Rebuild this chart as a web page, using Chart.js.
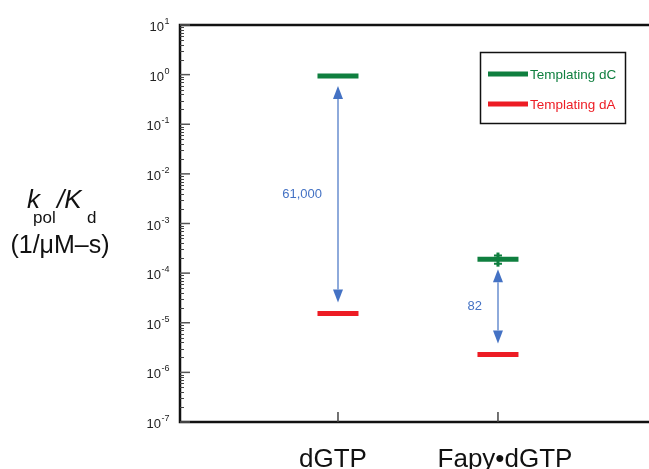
<!DOCTYPE html>
<html>
<head>
    <title>kpol/Kd dGTP vs Fapy-dGTP</title>
    <script src="https://cdn.jsdelivr.net/npm/chart.js"></script>
    <style>
        body { margin: 0; background: #fff; }
        #wrap { position: relative; width: 649px; height: 469px; }
    </style>
</head>
<body>
    <div id="wrap"><canvas id="kChart"></canvas></div>
    <script>
        // data
        const categories = ['dGTP', 'Fapy\u2022dGTP'];
        const templatingDC = [0.94, 1.9e-4];
        const templatingDA = [1.54e-5, 2.3e-6];
        const dcErrLow = [null, 1.35e-4];
        const dcErrHigh = [null, 2.6e-4];
        const foldLabels = ['61,000', '82'];
        const yTickExps = [1, 0, -1, -2, -3, -4, -5, -6, -7];

        const GREEN = '#0f7f3f';
        const RED = '#ed1c24';
        const BLUE = '#4472c4';
        const FONT = '"Liberation Sans", Arial, sans-serif';

        const decor = {
            id: 'decor',
            afterDatasetsDraw(chart) {
                const c = chart.ctx;
                const xs = chart.scales.x, ys = chart.scales.y;
                const a = chart.chartArea;
                c.save();

                // error bar on the Fapy dC point
                categories.forEach((cat, i) => {
                    if (dcErrLow[i] == null) return;
                    const x = xs.getPixelForValue(i);
                    const yl = ys.getPixelForValue(dcErrLow[i]);
                    const yh = ys.getPixelForValue(dcErrHigh[i]);
                    c.strokeStyle = GREEN;
                    c.lineWidth = 3;
                    c.beginPath(); c.moveTo(x, yh); c.lineTo(x, yl); c.stroke();
                    c.lineWidth = 2;
                    c.beginPath();
                    c.moveTo(x - 4, yh + 3); c.lineTo(x + 4, yh + 3);
                    c.moveTo(x - 4, yl - 3); c.lineTo(x + 4, yl - 3);
                    c.stroke();
                });

                // fold-difference arrows
                categories.forEach((cat, i) => {
                    const x = xs.getPixelForValue(i);
                    const yTop = ys.getPixelForValue(templatingDC[i]) + 10;
                    const yBot = ys.getPixelForValue(templatingDA[i]) - 11;
                    const head = 13, hw = 5;
                    c.strokeStyle = '#8eaadb';
                    c.lineWidth = 2;
                    c.beginPath(); c.moveTo(x, yTop + head); c.lineTo(x, yBot - head); c.stroke();
                    c.fillStyle = BLUE;
                    c.beginPath(); c.moveTo(x, yTop); c.lineTo(x - hw, yTop + head); c.lineTo(x + hw, yTop + head); c.closePath(); c.fill();
                    c.beginPath(); c.moveTo(x, yBot); c.lineTo(x - hw, yBot - head); c.lineTo(x + hw, yBot - head); c.closePath(); c.fill();
                    c.font = '13px ' + FONT;
                    c.textAlign = 'right';
                    c.textBaseline = 'middle';
                    c.fillText(foldLabels[i], x - 16, (yTop + yBot) / 2);
                });

                // axes frame: left, top, bottom
                c.strokeStyle = '#111';
                c.lineWidth = 2.5;
                c.beginPath();
                c.moveTo(a.right + 5, a.top); c.lineTo(a.left, a.top);
                c.lineTo(a.left, a.bottom); c.lineTo(a.right + 5, a.bottom);
                c.stroke();

                // y ticks (major + minor) and labels
                c.strokeStyle = '#444';
                c.lineWidth = 1;
                for (let e = -7; e < 1; e++) {
                    for (let m = 2; m <= 9; m++) {
                        const y = Math.round(ys.getPixelForValue(m * Math.pow(10, e))) + 0.5;
                        c.beginPath(); c.moveTo(a.left, y); c.lineTo(a.left + 4, y); c.stroke();
                    }
                }
                c.fillStyle = '#222';
                c.textAlign = 'left';
                c.textBaseline = 'alphabetic';
                yTickExps.forEach(e => {
                    const y = ys.getPixelForValue(Math.pow(10, e));
                    c.strokeStyle = '#555';
                    c.lineWidth = 1.5;
                    c.beginPath(); c.moveTo(a.left, y); c.lineTo(a.left + 10, y); c.stroke();
                    c.font = '13px ' + FONT;
                    const w10 = c.measureText('10').width;
                    c.font = '9px ' + FONT;
                    const ws = c.measureText(String(e)).width;
                    const x0 = 169 - w10 - ws;
                    c.font = '13px ' + FONT;
                    c.fillText('10', x0, y + 6);
                    c.font = '9px ' + FONT;
                    c.fillText(String(e), x0 + w10 + 0.5, y - 1);
                });

                // x category ticks and labels
                c.font = '26px ' + FONT;
                c.textAlign = 'center';
                categories.forEach((cat, i) => {
                    const x = xs.getPixelForValue(i);
                    c.strokeStyle = '#444';
                    c.lineWidth = 1.5;
                    c.beginPath(); c.moveTo(x, a.bottom); c.lineTo(x, a.bottom - 10); c.stroke();
                    c.fillStyle = '#111';
                    c.fillText(cat, x + (i === 0 ? -5 : 7), 467);
                });

                // y axis title
                c.fillStyle = '#111';
                c.textAlign = 'left';
                c.font = 'italic 26px ' + FONT;
                c.fillText('k', 27, 208);
                c.fillText('/K', 57, 208);
                c.font = '17px ' + FONT;
                c.fillText('pol', 33, 223);
                c.fillText('d', 87, 223);
                c.font = '25px ' + FONT;
                c.textAlign = 'center';
                c.fillText('(1/\u03bcM\u2013s)', 60, 253);

                // legend box
                c.strokeStyle = '#111';
                c.lineWidth = 1.5;
                c.strokeRect(480.5, 52.5, 145, 71);
                c.font = '13.5px ' + FONT;
                c.textAlign = 'left';
                [[GREEN, 'Templating dC', 74], [RED, 'Templating dA', 104]].forEach(([col, txt, y]) => {
                    c.strokeStyle = col;
                    c.lineWidth = 5;
                    c.beginPath(); c.moveTo(488, y); c.lineTo(528, y); c.stroke();
                    c.fillStyle = col;
                    c.fillText(txt, 530, y + 4.5);
                });
                c.restore();
            }
        };

        const ctx = document.getElementById('kChart').getContext('2d');
        new Chart(ctx, {
            type: 'scatter',
            data: {
                datasets: [
                    {
                        label: 'Templating dC',
                        data: categories.map((cat, i) => ({ x: i, y: templatingDC[i] })),
                        pointStyle: 'line',
                        pointRadius: 20.5,
                        borderWidth: 5,
                        borderColor: GREEN,
                        backgroundColor: GREEN
                    },
                    {
                        label: 'Templating dA',
                        data: categories.map((cat, i) => ({ x: i, y: templatingDA[i] })),
                        pointStyle: 'line',
                        pointRadius: 20.5,
                        borderWidth: 5,
                        borderColor: RED,
                        backgroundColor: RED
                    }
                ]
            },
            options: {
                responsive: true,
                maintainAspectRatio: false,
                animation: false,
                layout: { autoPadding: false, padding: { left: 180, top: 25, right: 0, bottom: 47 } },
                plugins: { legend: { display: false }, tooltip: { enabled: false } },
                scales: {
                    x: { type: 'linear', min: -0.9875, max: 1.944, display: false },
                    y: { type: 'logarithmic', min: 1e-7, max: 10, display: false }
                }
            },
            plugins: [decor]
        });
    </script>
</body>
</html>
